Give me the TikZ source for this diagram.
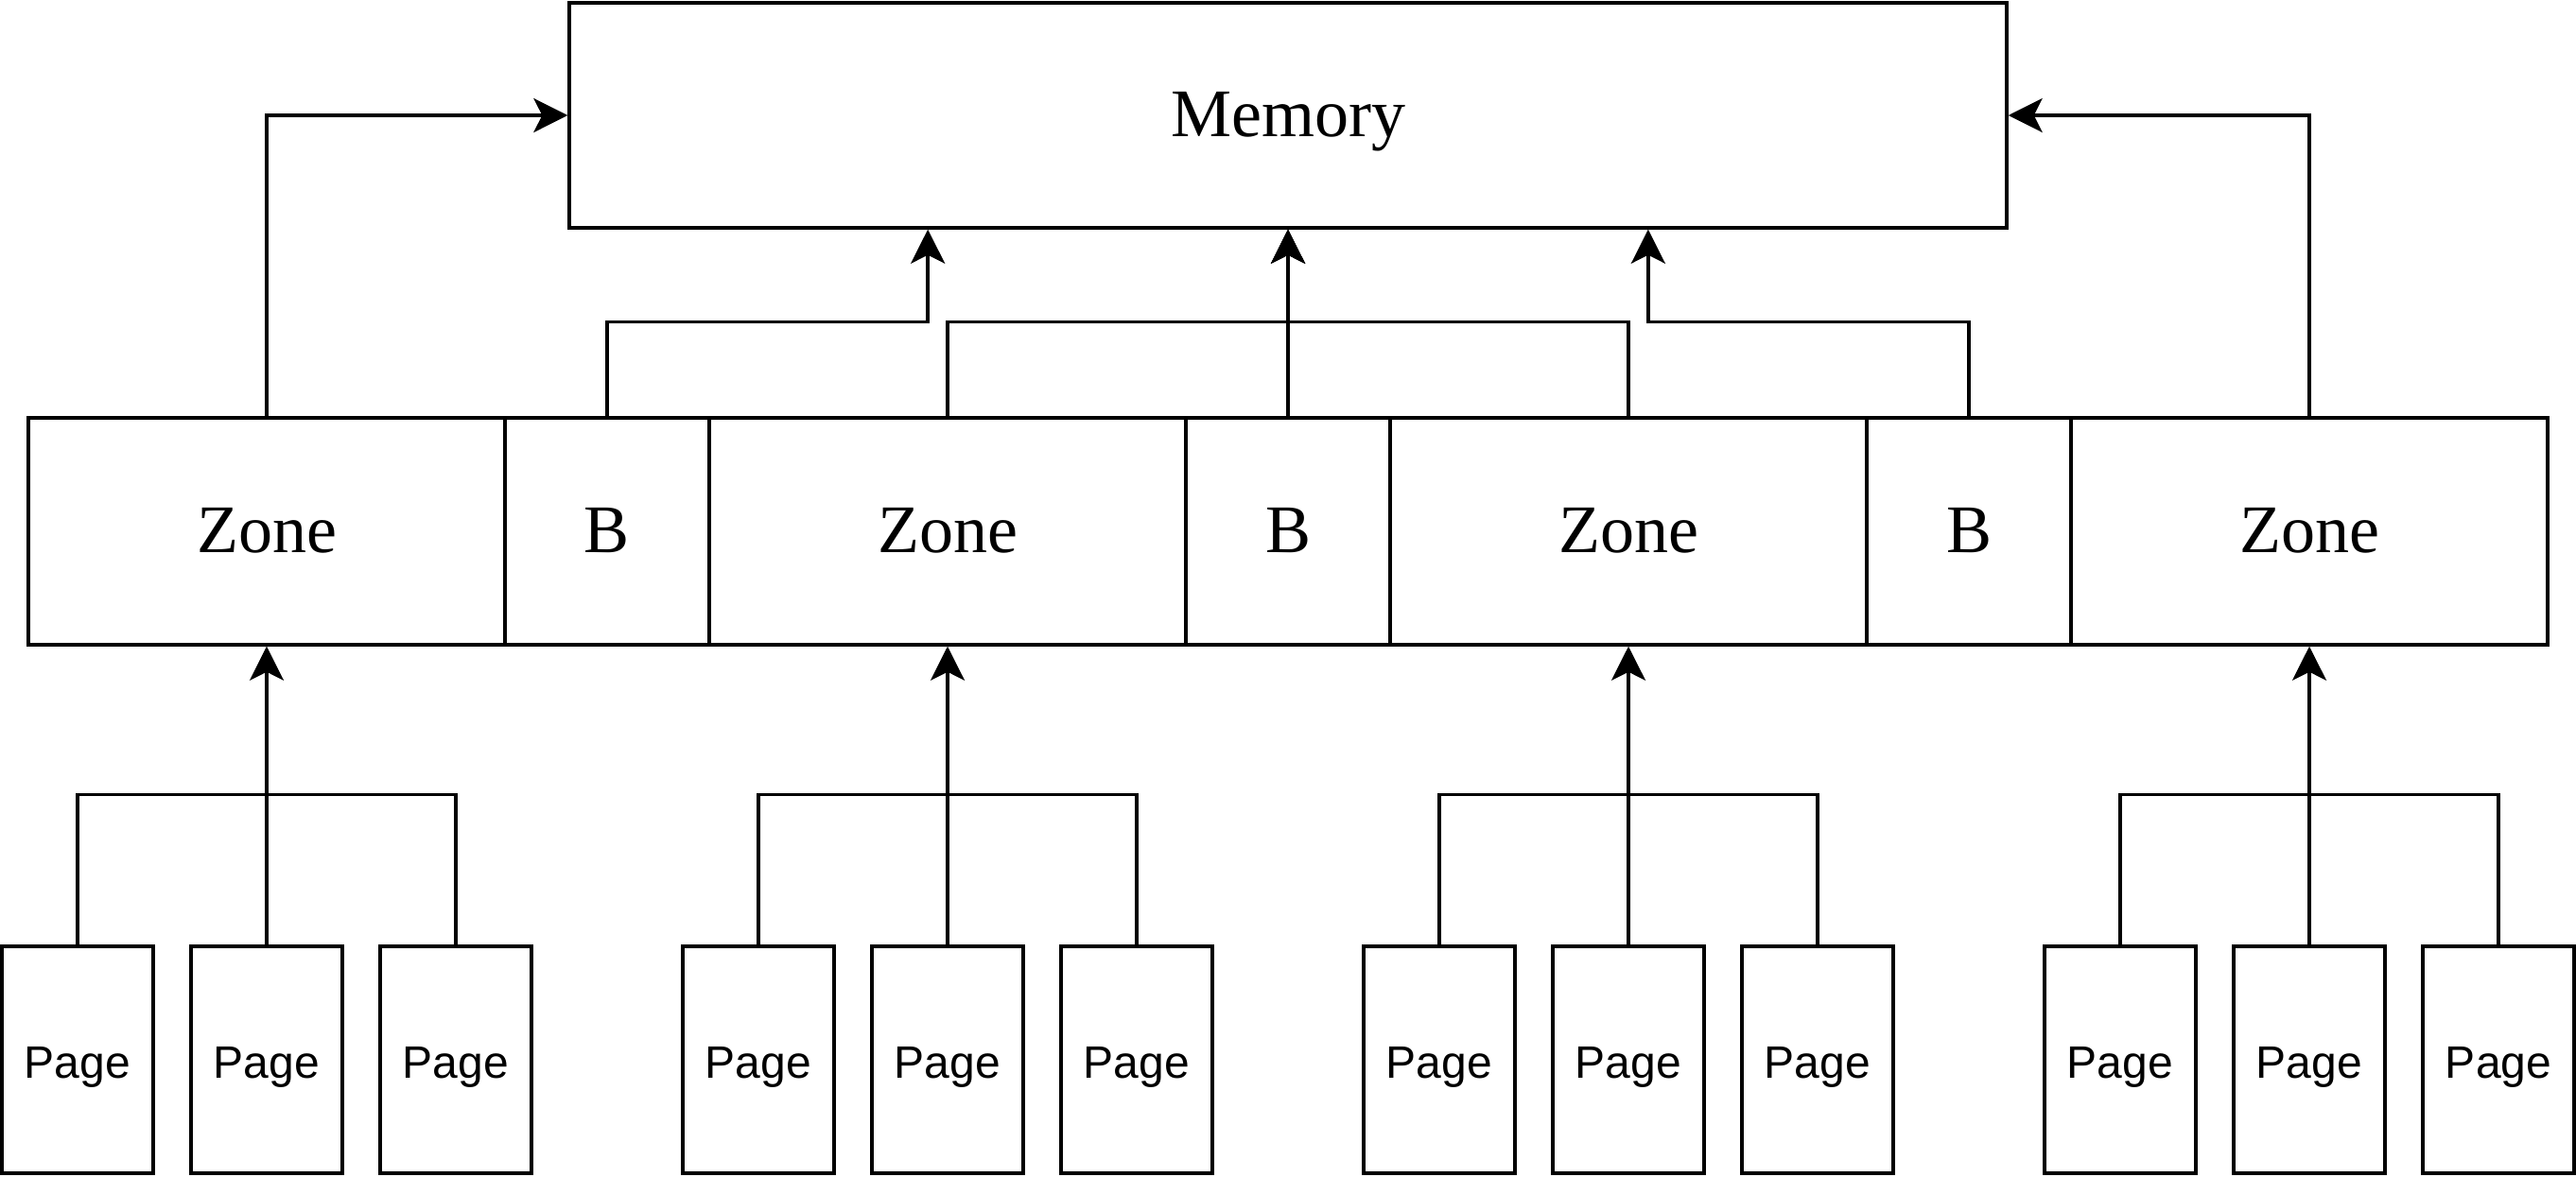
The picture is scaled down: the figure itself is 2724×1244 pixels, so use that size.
\documentclass[tikz,border=0pt]{standalone}
\usepackage{fontspec}
\setmainfont{Liberation Serif}
\newfontfamily\pagefont{Liberation Sans}
\usetikzlibrary{arrows.meta,calc}
\tikzset{
  box/.style={draw, line width=1.7pt, rectangle, inner sep=0pt, anchor=center},
  bigbox/.style={box, font=\fontsize{36}{43}\selectfont, text height=22.5pt, text depth=0pt},
  zonebox/.style={bigbox, minimum width=252pt, minimum height=120pt},
  bbox/.style={bigbox, minimum width=108pt, minimum height=120pt},
  membox/.style={bigbox, minimum width=760pt, minimum height=119pt},
  pagebox/.style={box, font=\pagefont\fontsize{24}{29}\selectfont, text height=19pt, text depth=0pt, minimum width=80pt, minimum height=120pt},
  arr/.style={line width=1.7pt, -{Stealth[length=18pt, width=18pt, inset=4.5pt]}},
  ln/.style={line width=1.7pt}
}
\begin{document}
\begin{tikzpicture}[x=0.5pt, y=-0.5pt]
\useasboundingbox (0,0) rectangle (2724,1244);
% memory
\node[membox] (mem) at (1362,122) {Memory};
% zone row
\node[zonebox] (z1) at (282,562) {Zone};
\node[bbox] (b1) at (642,562) {B};
\node[zonebox] (z2) at (1002,562) {Zone};
\node[bbox] (b2) at (1362,562) {B};
\node[zonebox] (z3) at (1722,562) {Zone};
\node[bbox] (b3) at (2082,562) {B};
\node[zonebox] (z4) at (2442,562) {Zone};
% memory anchors
\coordinate (mq1) at ($(mem.south west)!0.25!(mem.south east)$);
\coordinate (mq3) at ($(mem.south west)!0.75!(mem.south east)$);
% zone to memory connectors
\draw[arr] (z1.north) |- (mem.west);
\draw[arr] (z4.north) |- (mem.east);
\draw[arr] (b1.north) -- ++(0,-100) -| (mq1);
\draw[arr] (b3.north) -- ++(0,-100) -| (mq3);
\draw[arr] (z2.north) -- ++(0,-100) -| (mem.south);
\draw[arr] (z3.north) -- ++(0,-100) -| (mem.south);
\draw[arr] (b2.north) -- (mem.south);
% pages
\foreach \z/\cx in {1/282, 2/1002, 3/1722, 4/2442} {
  \node[pagebox] (p\z a) at (\cx-200,1121) {Page};
  \node[pagebox] (p\z b) at (\cx,1121) {Page};
  \node[pagebox] (p\z c) at (\cx+200,1121) {Page};
  \draw[ln] (p\z a.north) -- ++(0,-159) -| (p\z c.north);
  \draw[arr] (p\z b.north) -- (z\z.south);
}
\end{tikzpicture}
\end{document}
